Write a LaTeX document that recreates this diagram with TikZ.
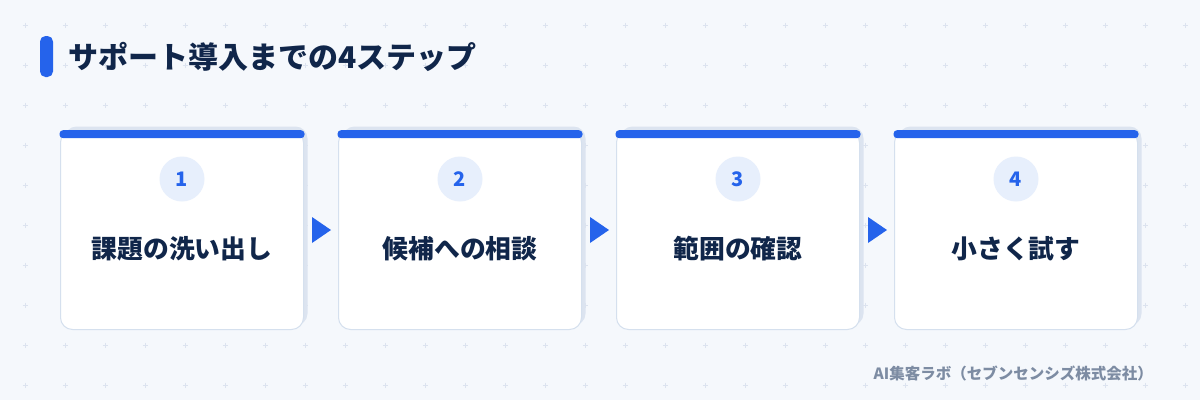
\documentclass[tikz,border=0pt]{standalone}
\usepackage{fontspec}
\setmainfont{Noto Sans CJK JP}
\usepackage{tikz}
\usetikzlibrary{shadows}
\definecolor{bgc}{HTML}{F5F8FC}
\definecolor{dotc}{HTML}{DCE3EF}
\definecolor{stepblue}{HTML}{2563EB}
\definecolor{navy}{HTML}{10264A}
\definecolor{cardline}{HTML}{D5E0EE}
\definecolor{cardshadow}{HTML}{DCE4F0}
\definecolor{numfill}{HTML}{E7EFFC}
\definecolor{footgray}{HTML}{7D8CA3}
\begin{document}
\begin{tikzpicture}[x=1pt, y=-1pt,
		card/.style={draw=cardline, line width=1, fill=white, rounded corners=12, minimum width=243, minimum height=199, inner sep=0,
			general shadow={fill=cardshadow, shadow xshift=4, shadow yshift=-4}},
		topbar/.style={fill=stepblue, rounded corners=3.5, minimum width=245, minimum height=8, inner sep=0, anchor=north},
		numc/.style={circle, fill=numfill, minimum size=45, inner sep=0, text=stepblue, font=\bfseries\fontsize{20}{23}\selectfont},
		steplabel/.style={text=navy, font=\bfseries\fontsize{25.8}{30}\selectfont, inner sep=0},
		tip/.style={fill=stepblue}]
			\fill[bgc] (0,0) rectangle (1200,400);
			\useasboundingbox (0,0) rectangle (1200,400);
			\foreach \x in {25,65,...,1185}
				\foreach \y in {25,65,...,385}
					\draw[dotc, line width=0.9] (\x-2.5,\y) -- (\x+2.5,\y) (\x,\y-2.5) -- (\x,\y+2.5);
			
			\node[fill=stepblue, rounded corners=5.5, minimum width=13, minimum height=41, inner sep=0] (accent) at (46.5,56.5) {};
			\node[anchor=west, text=navy, font=\bfseries\fontsize{30}{34}\selectfont, inner sep=0] (title) at (68,57) {サポート導入までの4ステップ};
			
			\node[card] (c1) at (182,230) {};
			\node[card] (c2) at (460,230) {};
			\node[card] (c3) at (738,230) {};
			\node[card] (c4) at (1016,230) {};
			\node[topbar] (bar1) at (c1.north) {};
			\node[topbar] (bar2) at (c2.north) {};
			\node[topbar] (bar3) at (c3.north) {};
			\node[topbar] (bar4) at (c4.north) {};
			
			\node[numc] (n1) at (182,179) {1};
			\node[numc] (n2) at (460,179) {2};
			\node[numc] (n3) at (738,179) {3};
			\node[numc] (n4) at (1016,179) {4};
			
			\node[steplabel] (l1) at (182,249) {課題の洗い出し};
			\node[steplabel] (l2) at (460,249) {候補への相談};
			\node[steplabel] (l3) at (738,249) {範囲の確認};
			\node[steplabel] (l4) at (1016,249) {小さく試す};
			
			\fill[tip] ([xshift=8, yshift=-13]c1.east) -- ([xshift=27]c1.east) -- ([xshift=8, yshift=13]c1.east) -- cycle;
			\fill[tip] ([xshift=8, yshift=-13]c2.east) -- ([xshift=27]c2.east) -- ([xshift=8, yshift=13]c2.east) -- cycle;
			\fill[tip] ([xshift=8, yshift=-13]c3.east) -- ([xshift=27]c3.east) -- ([xshift=8, yshift=13]c3.east) -- cycle;
			
			\node[anchor=east, text=footgray, font=\bfseries\fontsize{15.5}{18}\selectfont, inner sep=0] (credit) at (1153,373) {AI集客ラボ（セブンセンシズ株式会社）};
		\end{tikzpicture}
\end{document}
